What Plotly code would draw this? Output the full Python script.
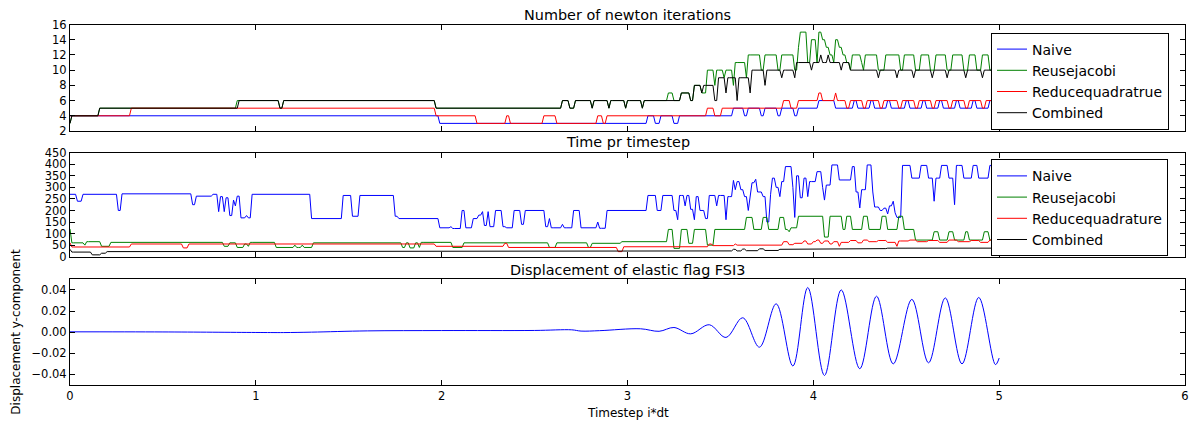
import numpy as np
import plotly.graph_objects as go

# ---------------- data ----------------
DT = 0.01
N_STEPS = 500
X_TICKS = [0, 1, 2, 3, 4, 5, 6]

# Newton iterations: (start time, value) change points
naive_it_t = [0, 1.99, 3.11, 3.15, 3.18, 3.25, 3.28, 3.57, 3.63, 3.65, 3.72, 3.74, 3.81, 3.83, 3.90, 3.92,
              4.03, 4.12, 4.22, 4.24, 4.31, 4.33, 4.40, 4.42, 4.50, 4.52, 4.59, 4.61, 4.68, 4.70, 4.77, 4.79,
              4.86, 4.88, 4.95, 4.97]
naive_it_v = [4, 3, 4, 3, 4, 3, 4, 5, 4, 5, 4, 5, 4, 5, 4, 5,
              6, 5, 6, 5, 6, 5, 6, 5, 6, 5, 6, 5, 6, 5, 6, 5,
              6, 5, 6, 5]

reuse_it_t = [0, 0.01, 0.16, 0.90, 1.13, 1.15, 1.97, 2.65, 2.69, 2.72, 2.81, 2.82, 2.90, 2.91, 2.99, 3.00,
              3.08, 3.09, 3.22, 3.25, 3.29, 3.34, 3.36, 3.40, 3.43, 3.47, 3.48, 3.52, 3.53, 3.57, 3.58, 3.64,
              3.65, 3.72, 3.74, 3.81, 3.83, 3.90, 3.92, 3.93, 3.97, 3.99, 4.02, 4.03, 4.05, 4.07, 4.09, 4.11,
              4.12, 4.14, 4.16, 4.18, 4.20, 4.21, 4.26, 4.27, 4.28, 4.35, 4.39, 4.47, 4.49, 4.55, 4.58, 4.63,
              4.66, 4.72, 4.75, 4.81, 4.84, 4.88, 4.91, 4.95]
reuse_it_v = [3, 4, 5, 6, 5, 6, 5, 6, 5, 6, 5, 6, 5, 6, 5, 6,
              5, 6, 7, 6, 7, 6, 8, 7, 10, 8, 10, 9, 10, 8, 11, 9,
              12, 10, 12, 10, 12, 10, 13, 15, 11, 14, 11, 15, 14, 13, 12, 11,
              14, 13, 12, 11, 10, 12, 11, 10, 12, 10, 12, 10, 12, 10, 12, 10,
              12, 10, 12, 10, 12, 10, 12, 10]

reduce_it_t = [0, 0.33, 1.97, 2.19, 2.35, 2.37, 2.55, 2.62, 2.84, 2.87, 2.89, 3.43, 3.47, 3.51, 3.84, 3.88,
               3.92, 4.03, 4.05, 4.12, 4.13, 4.18, 4.20, 4.27, 4.29, 4.36, 4.38, 4.46, 4.48, 4.55, 4.57, 4.64,
               4.66, 4.73, 4.75, 4.82, 4.84, 4.91, 4.93]
reduce_it_v = [4, 5, 4, 3, 4, 3, 4, 3, 4, 3, 4, 5, 4, 5, 6, 5,
               6, 7, 6, 7, 6, 5, 6, 5, 6, 5, 6, 5, 6, 5, 6, 5,
               6, 5, 6, 5, 6, 5, 6]

comb_it_t = [0, 0.01, 0.16, 0.91, 1.13, 1.15, 1.97, 2.65, 2.69, 2.72, 2.81, 2.82, 2.90, 2.91, 2.99, 3.00,
             3.08, 3.09, 3.29, 3.34, 3.36, 3.40, 3.41, 3.47, 3.49, 3.53, 3.54, 3.59, 3.60, 3.66, 3.67, 3.74,
             3.75, 3.83, 3.84, 3.90, 3.91, 3.99, 4.00, 4.04, 4.05, 4.08, 4.09, 4.15, 4.16, 4.20, 4.35, 4.36,
             4.45, 4.46, 4.54, 4.55, 4.64, 4.65, 4.72, 4.73, 4.82, 4.83, 4.91, 4.92]
comb_it_v = [3, 4, 5, 6, 5, 6, 5, 6, 5, 6, 5, 6, 5, 6, 5, 6,
             5, 6, 7, 6, 8, 7, 8, 6, 9, 7, 9, 6, 9, 7, 10, 8,
             10, 9, 10, 9, 11, 10, 11, 12, 11, 12, 11, 10, 11, 10, 9, 10,
             9, 10, 9, 10, 9, 10, 9, 10, 9, 10, 9, 10]

# Time per timestep: (start time, value) change points
naive_tm_t = [0, 0.04, 0.07, 0.26, 0.28, 0.66, 0.68, 0.77, 0.80, 0.81, 0.83, 0.84, 0.86, 0.88, 0.89, 0.90,
              0.92, 0.95, 0.96, 0.98, 1.30, 1.47, 1.52, 1.56, 1.75, 1.77, 1.99, 2.05, 2.06, 2.11, 2.13, 2.17,
              2.20, 2.22, 2.23, 2.25, 2.26, 2.29, 2.33, 2.35, 2.39, 2.43, 2.45, 2.56, 2.58, 2.59, 2.65, 2.66,
              2.71, 2.75, 2.84, 2.85, 2.89, 3.11, 3.16, 3.19, 3.25, 3.27, 3.28, 3.31, 3.32, 3.34, 3.36, 3.37,
              3.39, 3.42, 3.44, 3.48, 3.49, 3.53, 3.54, 3.57, 3.58, 3.59, 3.61, 3.63, 3.65, 3.66, 3.67, 3.69,
              3.70, 3.73, 3.75, 3.77, 3.78, 3.80, 3.82, 3.83, 3.85, 3.89, 3.90, 3.91, 3.93, 3.95, 3.97, 3.98,
              4.02, 4.05, 4.06, 4.07, 4.10, 4.14, 4.21, 4.23, 4.25, 4.26, 4.29, 4.32, 4.33, 4.36, 4.38, 4.40,
              4.41, 4.43, 4.44, 4.45, 4.48, 4.53, 4.58, 4.62, 4.65, 4.66, 4.69, 4.73, 4.76, 4.77, 4.81, 4.86,
              4.89, 4.95, 4.98]
naive_tm_v = [270, 240, 270, 200, 272, 225, 262, 270, 195, 260, 195, 255, 178, 245, 220, 262,
              168, 178, 168, 270, 165, 265, 175, 265, 175, 165, 125, 130, 122, 200, 125, 165,
              180, 195, 135, 195, 130, 200, 130, 125, 200, 140, 200, 130, 165, 125, 140, 125,
              200, 125, 150, 123, 200, 265, 200, 265, 200, 160, 265, 220, 265, 205, 160, 260,
              200, 165, 265, 220, 265, 160, 260, 330, 290, 325, 290, 260, 200, 250, 320, 335,
              280, 260, 150, 270, 340, 300, 260, 325, 390, 300, 170, 350, 255, 340, 260, 325,
              368, 300, 245, 310, 397, 332, 390, 280, 211, 290, 397, 280, 215, 200, 210, 185,
              220, 240, 190, 170, 395, 340, 395, 340, 240, 340, 395, 340, 225, 395, 340, 395,
              340, 395, 340]

reuse_tm_t = [0, 0.01, 0.08, 0.09, 0.17, 0.22, 0.83, 0.86, 0.90, 0.94, 0.96, 0.97, 1.11, 1.21, 1.22, 1.25,
              1.26, 1.31, 1.79, 1.81, 1.83, 1.86, 1.88, 1.89, 2.06, 2.12, 2.58, 2.62, 2.79, 2.81, 2.97, 3.22,
              3.25, 3.29, 3.33, 3.36, 3.43, 3.47, 3.64, 3.68, 3.73, 3.76, 3.82, 3.85, 3.87, 3.88, 3.92, 4.06,
              4.09, 4.16, 4.18, 4.21, 4.27, 4.30, 4.37, 4.40, 4.46, 4.49, 4.55, 4.65, 4.68, 4.73, 4.76, 4.82,
              4.84, 4.92, 4.95]
reuse_tm_v = [120, 60, 50, 65, 45, 62, 45, 60, 40, 55, 45, 62, 40, 50, 40, 50,
              40, 60, 40, 60, 38, 60, 40, 62, 40, 60, 40, 60, 40, 58, 65, 118,
              36, 118, 58, 118, 50, 118, 170, 118, 170, 118, 170, 118, 108, 125, 175, 85,
              175, 118, 175, 118, 175, 118, 175, 118, 175, 118, 72, 108, 72, 108, 72, 108,
              72, 108, 72]

reduce_tm_t = [0, 0.01, 0.33, 0.61, 0.64, 1.97, 2.34, 2.36, 2.95, 2.98, 3.44, 3.46, 3.58, 3.59, 3.84, 3.87,
               3.90, 3.95, 3.97, 4.00, 4.02, 4.04, 4.06, 4.09, 4.11, 4.14, 4.15, 4.20, 4.24, 4.27, 4.30, 4.35,
               4.40, 4.45, 4.46, 4.52, 4.56, 4.62, 4.68, 4.73, 4.78, 4.85, 4.90, 4.95]
reduce_tm_v = [60, 42, 55, 38, 55, 45, 58, 40, 22, 43, 55, 48, 55, 50, 65, 52,
               58, 68, 55, 65, 72, 58, 68, 55, 65, 45, 62, 70, 60, 72, 65, 70,
               62, 45, 68, 72, 65, 70, 62, 72, 65, 70, 62, 72]

comb_tm_t = [0, 0.01, 0.12, 0.17, 0.20, 0.22, 3.57, 3.59, 3.62, 3.64, 3.71, 3.74, 3.82, 3.84, 4.40]
comb_tm_v = [32, 20, 8, 15, 22, 25, 32, 25, 33, 26, 34, 27, 32, 35, 37]

# Displacement of elastic flag (turning points)
disp_t = [0.0, 0.5, 1.0, 1.15, 1.3, 1.6, 2.0, 2.5, 2.7, 2.75, 2.85, 3.07, 3.17, 3.25, 3.34, 3.44, 3.53,
          3.62, 3.71, 3.80, 3.89, 3.97, 4.06, 4.15, 4.25, 4.34, 4.43, 4.53, 4.62, 4.71, 4.80, 4.89, 4.98, 5.00]
disp_v = [0.0003, 0.0002, -0.0003, -0.0004, 0.0000, 0.0012, 0.0015, 0.0016, 0.0022, 0.0010, 0.0014,
          0.0032, 0.0008, 0.0044, -0.0016, 0.0070, -0.0050, 0.0136, -0.0142, 0.0268, -0.0320, 0.0422,
          -0.0410, 0.0400, -0.0346, 0.0340, -0.0300, 0.0310, -0.0290, 0.0324, -0.0300, 0.0328, -0.0307,
          -0.0245]

top_names = ["Naive", "Reusejacobi", "Reducequadratrue", "Combined"]
mid_names = ["Naive", "Reusejacobi", "Reducequadrature", "Combined"]
colors = ["#0000ff", "#008000", "#ff0000", "#000000"]

# ---------------- build ----------------
t = np.round(np.arange(N_STEPS + 1) * DT, 2)


def expand(bt, bv):
    idx = np.searchsorted(np.asarray(bt), t + 1e-9, side="right") - 1
    return np.asarray(bv, dtype=float)[idx]


W, H = 1190, 424
X0, X1 = 70, 1185
panels = {  # pixel top, bottom
    "top": (24.5, 131.0),
    "mid": (152.7, 256.7),
    "bot": (279.3, 385.0),
}


def dom(p):
    a, b = panels[p]
    return [1 - b / H, 1 - a / H]


FONT = "DejaVu Sans, Liberation Sans, sans-serif"
LEG_SIZE = 14
fig = go.Figure()

iters = [(naive_it_t, naive_it_v), (reuse_it_t, reuse_it_v), (reduce_it_t, reduce_it_v), (comb_it_t, comb_it_v)]
times = [(naive_tm_t, naive_tm_v), (reuse_tm_t, reuse_tm_v), (reduce_tm_t, reduce_tm_v), (comb_tm_t, comb_tm_v)]

for (bt, bv), name, c in zip(iters, top_names, colors):
    fig.add_trace(go.Scatter(x=t, y=expand(bt, bv), mode="lines", name=name,
                             line=dict(color=c, width=1), xaxis="x", yaxis="y", legend="legend"))
for (bt, bv), name, c in zip(times, mid_names, colors):
    fig.add_trace(go.Scatter(x=t, y=expand(bt, bv), mode="lines", name=name,
                             line=dict(color=c, width=1), xaxis="x2", yaxis="y2", legend="legend2"))
fig.add_trace(go.Scatter(x=disp_t, y=disp_v, mode="lines", showlegend=False,
                         line=dict(color="#0000ff", width=1, shape="spline", smoothing=1.0),
                         xaxis="x3", yaxis="y3"))

axis_common = dict(showline=True, linecolor="black", linewidth=1, mirror="allticks",
                   ticks="inside", ticklen=5, tickwidth=1, tickcolor="black",
                   showgrid=False, zeroline=False, automargin=False,
                   tickfont=dict(family=FONT, size=11.5, color="black"))
xd = [X0 / W, X1 / W]

fig.update_layout(
    template="none",
    width=W, height=H, margin=dict(l=0, r=0, t=0, b=0, pad=0, autoexpand=False),
    paper_bgcolor="white", plot_bgcolor="white",
    font=dict(family=FONT, size=12, color="black"),
    xaxis=dict(domain=xd, range=[0, 6], tickvals=X_TICKS, showticklabels=False, anchor="y", **axis_common),
    yaxis=dict(domain=dom("top"), range=[2, 16], tickvals=list(range(2, 17, 2)), anchor="x", **axis_common),
    xaxis2=dict(domain=xd, range=[0, 6], tickvals=X_TICKS, showticklabels=False, anchor="y2", **axis_common),
    yaxis2=dict(domain=dom("mid"), range=[0, 450], tickvals=list(range(0, 451, 50)), anchor="x2", **axis_common),
    xaxis3=dict(domain=xd, range=[0, 6], tickvals=X_TICKS, anchor="y3", **axis_common),
    yaxis3=dict(domain=dom("bot"), range=[-0.05, 0.05], tickvals=[-0.04, -0.02, 0.0, 0.02, 0.04],
                tickformat=".2f", anchor="x3", **axis_common),
    legend=dict(x=991 / W, y=1 - 32.5 / H, xanchor="left", yanchor="top", bgcolor="white",
                bordercolor="black", borderwidth=1, font=dict(family=FONT, size=LEG_SIZE, color="black"),
                tracegroupgap=0, itemwidth=30),
    legend2=dict(x=991 / W, y=1 - 159.3 / H, xanchor="left", yanchor="top", bgcolor="white",
                 bordercolor="black", borderwidth=1, font=dict(family=FONT, size=LEG_SIZE, color="black"),
                 tracegroupgap=0, itemwidth=30),
    showlegend=True,
)

xc = (X0 + X1) / 2 / W
titles = [("Number of newton iterations", 15), ("Time pr timestep", 141.7), ("Displacement of elastic flag FSI3", 270)]
for txt, py in titles:
    fig.add_annotation(text=txt, x=xc, y=1 - py / H, xref="paper", yref="paper", showarrow=False,
                       xanchor="center", yanchor="middle", font=dict(family=FONT, size=14.4, color="black"))
fig.add_annotation(text="Timestep i*dt", x=xc, y=1 - 413 / H, xref="paper", yref="paper", showarrow=False,
                   xanchor="center", yanchor="middle", font=dict(family=FONT, size=12, color="black"))
bot_a, bot_b = panels["bot"]
fig.add_annotation(text="Displacement y-component", x=16.5 / W, y=1 - (bot_a + bot_b) / 2 / H,
                   xref="paper", yref="paper", showarrow=False, textangle=-90,
                   xanchor="center", yanchor="middle", font=dict(family=FONT, size=12, color="black"))

fig.write_html("out.html", config={"displayModeBar": False},
               post_script="document.body.style.margin='0';document.body.style.overflow='hidden';")
